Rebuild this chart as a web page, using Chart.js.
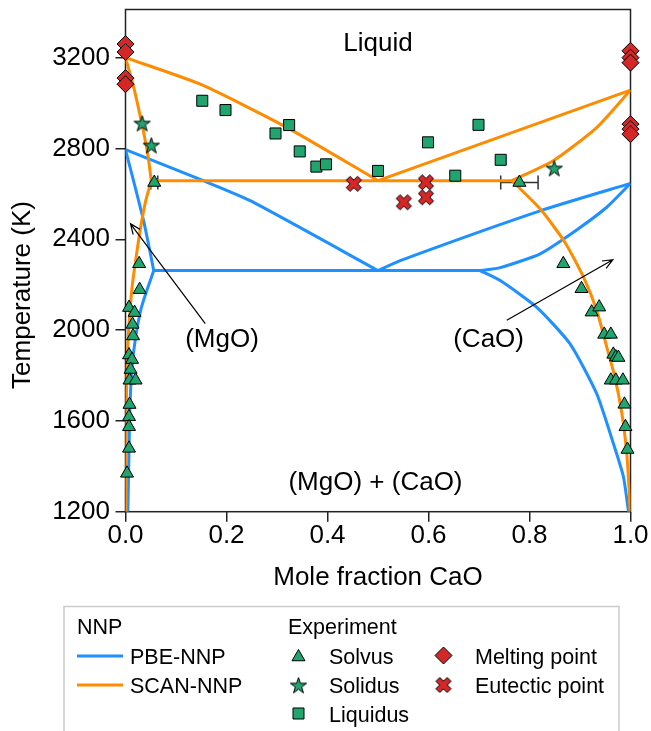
<!DOCTYPE html>
<html>
<head>
<meta charset="utf-8">
<title>MgO-CaO phase diagram</title>
<script src="https://cdn.jsdelivr.net/npm/chart.js@4.4.0/dist/chart.umd.min.js"></script>
<style>
  html, body { margin: 0; padding: 0; background: #fff; }
  #wrap { width: 651px; height: 731px; }
</style>
</head>
<body>
<div id="wrap"><canvas id="phaseChart" width="651" height="731"></canvas></div>
<script>
// --- axes ---
const xTicks = [0, 0.2, 0.4, 0.6, 0.8, 1.0];
const yTicks = [1200, 1600, 2000, 2400, 2800, 3200];
const yMin = 1200;
const yMax = 3412;

// --- PBE-NNP curves, [mole fraction CaO, T (K)] ---
const pbeMgoLiquidus = [[0, 2795], [0.154, 2658], [0.247, 2570], [0.5, 2262]];
const pbeMgoSolidus = [[0, 2795], [0.036, 2480], [0.056, 2262]];
const pbeMgoSolvus = [[0.056, 2262], [0.040, 2160], [0.030, 2087], [0.020, 1969], [0.013, 1837], [0.0085, 1647], [0.0066, 1427], [0.0046, 1200]];
const pbeEutectic = [[0.056, 2262], [0.702, 2262]];
const pbeCaoLiquidus = [[0.5, 2262], [0.544, 2306], [0.821, 2525], [1.0, 2646]];
const pbeCaoSolidus = [[0.702, 2262], [0.742, 2275], [0.821, 2336], [0.887, 2431], [0.953, 2541], [1.0, 2646]];
const pbeCaoSolvus = [[0.702, 2262], [0.742, 2218], [0.814, 2101], [0.880, 1940], [0.933, 1720], [0.966, 1501], [0.986, 1354], [0.996, 1200]];

// --- SCAN-NNP curves ---
const scanMgoLiquidus = [[0, 3200], [0.148, 3083], [0.32, 2892], [0.5, 2658]];
const scanMgoSolidus = [[0, 3200], [0.0165, 3068], [0.043, 2790], [0.051, 2658]];
const scanMgoSolvus = [[0.051, 2658], [0.040, 2569], [0.030, 2453], [0.020, 2306], [0.013, 2189], [0.0066, 2013], [0.0033, 1867], [0.002, 1722], [0.001, 1200]];
const scanEutectic = [[0.051, 2658], [0.765, 2658]];
const scanCaoLiquidus = [[0.5, 2658], [1.0, 3057]];
const scanCaoSolidus = [[0.765, 2658], [0.847, 2746], [0.933, 2892], [1.0, 3057]];
const scanCaoSolvus = [[0.765, 2658], [0.821, 2534], [0.870, 2387], [0.907, 2233], [0.933, 2087], [0.953, 1925], [0.969, 1793], [0.983, 1633], [0.992, 1471], [0.9977, 1281], [0.999, 1200]];

// --- experiment ---
const solvusPts = [
  [0.057, 2650], [0.027, 2292], [0.028, 2178], [0.007, 2099], [0.018, 2077], [0.014, 2025], [0.015, 1974],
  [0.007, 1890], [0.013, 1870], [0.010, 1826], [0.008, 1779], [0.020, 1779], [0.008, 1672], [0.007, 1618],
  [0.007, 1574], [0.007, 1479], [0.003, 1369],
  [0.780, 2650], [0.867, 2292], [0.903, 2182], [0.923, 2079], [0.938, 2101], [0.948, 1981], [0.961, 1981],
  [0.966, 1893], [0.971, 1881], [0.976, 1879], [0.961, 1779], [0.971, 1779], [0.985, 1779], [0.988, 1673],
  [0.990, 1574], [0.994, 1474]
];
const solvusErr = [[0.057, 2650, 0.007], [0.780, 2650, 0.037]]; // x, T, +/- dx
const solidusPts = [[0.033, 2912], [0.051, 2815], [0.849, 2714]];
const liquidusPts = [
  [0.152, 3010], [0.198, 2969], [0.297, 2866], [0.324, 2903], [0.345, 2787], [0.378, 2720],
  [0.397, 2730], [0.500, 2701], [0.599, 2827], [0.653, 2680], [0.699, 2904], [0.743, 2750]
];
const meltingPts = [[0, 3260], [0, 3225], [0, 3110], [0, 3083], [1, 3230], [1, 3200], [1, 3178], [1, 2907], [1, 2885], [1, 2863]];
const eutecticPts = [[0.452, 2644], [0.551, 2563], [0.595, 2651], [0.595, 2585]];

// --- text in the plot (data coords, baseline) ---
const regionLabels = [
  { text: 'Liquid', x: 0.5, y: 3230 },
  { text: '(MgO)', x: 0.191, y: 1925 },
  { text: '(CaO)', x: 0.719, y: 1925 },
  { text: '(MgO) + (CaO)', x: 0.495, y: 1295 }
];
const arrows = [
  { from: [0.158, 2028], to: [0.0099, 2468] },
  { from: [0.755, 2043], to: [0.965, 2310] }
];

const BLUE = '#1e90ff';
const ORANGE = '#ff8c00';
const GREEN = '#1fa56d';
const RED = '#d62728';
const FONT = "'Liberation Sans', Arial, Helvetica, sans-serif";

Chart.defaults.font.family = FONT;
Chart.defaults.color = '#000';

// star and filled X markers as small canvases
function makeStar(outer) {
  const size = Math.ceil(outer * 2 + 4);
  const c = document.createElement('canvas');
  c.width = c.height = size;
  const g = c.getContext('2d');
  const inner = outer * 0.382;
  g.beginPath();
  for (let i = 0; i < 10; i++) {
    const r = i % 2 ? inner : outer;
    const a = -Math.PI / 2 + i * Math.PI / 5;
    g.lineTo(size / 2 + r * Math.cos(a), size / 2 + 1 + r * Math.sin(a));
  }
  g.closePath();
  g.fillStyle = GREEN; g.fill();
  g.lineWidth = 1; g.strokeStyle = '#000'; g.stroke();
  return c;
}
function makeX(unit) {
  const size = Math.ceil(unit + 4);
  const c = document.createElement('canvas');
  c.width = c.height = size;
  const g = c.getContext('2d');
  const pts = [[-1, -3], [-1, -1], [-3, -1], [-3, 1], [-1, 1], [-1, 3], [1, 3], [1, 1], [3, 1], [3, -1], [1, -1], [1, -3]];
  const k = Math.SQRT1_2 * unit / 6;
  g.beginPath();
  pts.forEach(([px, py]) => g.lineTo(size / 2 + (px - py) * k, size / 2 + (px + py) * k));
  g.closePath();
  g.fillStyle = RED; g.fill();
  g.lineWidth = 1; g.strokeStyle = '#000'; g.stroke();
  return c;
}
const starImg = makeStar(8.5);
const xImg = makeX(16);

const toXY = pts => pts.map(([x, y]) => ({ x, y }));
function curve(pts, color) {
  return { data: toXY(pts), showLine: true, borderColor: color, borderWidth: 3, pointRadius: 0,
           tension: 0.2, borderJoinStyle: 'round', fill: false };
}
function markers(pts, style, radius, fill) {
  return { data: toXY(pts), showLine: false, pointStyle: style, pointRadius: radius, pointHoverRadius: radius,
           backgroundColor: fill, borderColor: '#000', borderWidth: 1, clip: false };
}

// legend marker paths, same shapes as Chart.js uses
function legendMarker(ctx, style, x, y) {
  ctx.save();
  ctx.lineWidth = 1; ctx.strokeStyle = '#000';
  if (style === 'star') { ctx.drawImage(starImg, x - starImg.width / 2, y - starImg.height / 2); ctx.restore(); return; }
  if (style === 'x') { ctx.drawImage(xImg, x - xImg.width / 2, y - xImg.height / 2); ctx.restore(); return; }
  ctx.beginPath();
  if (style === 'triangle') {
    const r = 7.5;
    for (let i = 0; i < 3; i++) {
      const a = i * 2 * Math.PI / 3;
      ctx.lineTo(x + Math.sin(a) * r, y - Math.cos(a) * r);
    }
    ctx.fillStyle = GREEN;
  } else if (style === 'rect') {
    const s = 7.8 * Math.SQRT1_2;
    ctx.rect(x - s, y - s, 2 * s, 2 * s);
    ctx.fillStyle = GREEN;
  } else if (style === 'diamond') {
    const r = 8.5;
    ctx.moveTo(x - r, y); ctx.lineTo(x, y - r); ctx.lineTo(x + r, y); ctx.lineTo(x, y + r);
    ctx.fillStyle = RED;
  }
  ctx.closePath();
  ctx.fill(); ctx.stroke();
  ctx.restore();
}

const phaseDecor = {
  id: 'phaseDecor',
  beforeDatasetsDraw(chart) {
    const { ctx, chartArea: a, scales: { x, y } } = chart;
    ctx.save();
    // frame
    ctx.strokeStyle = '#222';
    ctx.lineWidth = 1.5;
    ctx.strokeRect(a.left, a.top, a.right - a.left, a.bottom - a.top);
    // error bars
    ctx.strokeStyle = '#333';
    ctx.lineWidth = 1.5;
    solvusErr.forEach(([cx, t, dx]) => {
      const py = y.getPixelForValue(t);
      const x1 = x.getPixelForValue(cx - dx), x2 = x.getPixelForValue(cx + dx);
      ctx.beginPath();
      ctx.moveTo(x1, py); ctx.lineTo(x2, py);
      ctx.moveTo(x1, py - 7); ctx.lineTo(x1, py + 7);
      ctx.moveTo(x2, py - 7); ctx.lineTo(x2, py + 7);
      ctx.stroke();
    });
    ctx.restore();
  },
  afterDatasetsDraw(chart) {
    const { ctx, scales: { x, y } } = chart;
    ctx.save();
    ctx.fillStyle = '#000';
    ctx.font = '26px ' + FONT;
    ctx.textAlign = 'center';
    ctx.textBaseline = 'alphabetic';
    regionLabels.forEach(l => ctx.fillText(l.text, x.getPixelForValue(l.x), y.getPixelForValue(l.y)));

    ctx.strokeStyle = '#000';
    ctx.lineWidth = 1.2;
    arrows.forEach(ar => {
      const x0 = x.getPixelForValue(ar.from[0]), y0 = y.getPixelForValue(ar.from[1]);
      const x1 = x.getPixelForValue(ar.to[0]), y1 = y.getPixelForValue(ar.to[1]);
      const ang = Math.atan2(y1 - y0, x1 - x0);
      ctx.beginPath();
      ctx.moveTo(x0, y0); ctx.lineTo(x1, y1);
      ctx.moveTo(x1 - 11 * Math.cos(ang - 0.4), y1 - 11 * Math.sin(ang - 0.4));
      ctx.lineTo(x1, y1);
      ctx.lineTo(x1 - 11 * Math.cos(ang + 0.4), y1 - 11 * Math.sin(ang + 0.4));
      ctx.stroke();
    });
    ctx.restore();
  },
  afterDraw(chart) {
    const ctx = chart.ctx;
    ctx.save();
    // y axis title, sits a bit below the middle of the axis like the original
    ctx.translate(23, 295);
    ctx.rotate(-Math.PI / 2);
    ctx.font = '26px ' + FONT;
    ctx.fillStyle = '#000';
    ctx.textAlign = 'center';
    ctx.textBaseline = 'middle';
    ctx.fillText('Temperature (K)', 0, 0);
    ctx.restore();

    ctx.save();
    // legend box (runs past the bottom edge)
    ctx.strokeStyle = '#cccccc';
    ctx.lineWidth = 1.5;
    ctx.strokeRect(64, 606.5, 555, 160);

    ctx.font = '21.5px ' + FONT;
    ctx.fillStyle = '#000';
    ctx.textAlign = 'left';
    ctx.textBaseline = 'alphabetic';
    ctx.fillText('NNP', 77, 633.5);
    ctx.fillText('Experiment', 288, 633.5);

    ctx.lineWidth = 3;
    ctx.strokeStyle = BLUE;
    ctx.beginPath(); ctx.moveTo(77, 656); ctx.lineTo(123, 656); ctx.stroke();
    ctx.strokeStyle = ORANGE;
    ctx.beginPath(); ctx.moveTo(77, 685); ctx.lineTo(123, 685); ctx.stroke();
    ctx.fillText('PBE-NNP', 130, 664);
    ctx.fillText('SCAN-NNP', 130, 693);

    legendMarker(ctx, 'triangle', 298.5, 657);
    legendMarker(ctx, 'star', 298.5, 685);
    legendMarker(ctx, 'rect', 298.5, 713.5);
    ctx.fillText('Solvus', 329, 664);
    ctx.fillText('Solidus', 329, 693);
    ctx.fillText('Liquidus', 329, 721.5);

    legendMarker(ctx, 'diamond', 443.5, 655.5);
    legendMarker(ctx, 'x', 443.5, 685);
    ctx.fillText('Melting point', 475, 664);
    ctx.fillText('Eutectic point', 475, 693);
    ctx.restore();
  }
};

const ctx = document.getElementById('phaseChart');
new Chart(ctx, {
  type: 'scatter',
  data: {
    datasets: [
      // markers first so they sit on top of the lines
      markers(eutecticPts, xImg, 8, RED),
      markers(meltingPts, 'rectRot', 8.5, RED),
      markers(liquidusPts, 'rect', 7.8, GREEN),
      markers(solidusPts, starImg, 8.5, GREEN),
      markers(solvusPts, 'triangle', 7.5, GREEN),

      curve(scanMgoLiquidus, ORANGE),
      curve(scanMgoSolidus, ORANGE),
      curve(scanMgoSolvus, ORANGE),
      curve(scanEutectic, ORANGE),
      curve(scanCaoLiquidus, ORANGE),
      curve(scanCaoSolidus, ORANGE),
      curve(scanCaoSolvus, ORANGE),

      curve(pbeMgoLiquidus, BLUE),
      curve(pbeMgoSolidus, BLUE),
      curve(pbeMgoSolvus, BLUE),
      curve(pbeEutectic, BLUE),
      curve(pbeCaoLiquidus, BLUE),
      curve(pbeCaoSolidus, BLUE),
      curve(pbeCaoSolvus, BLUE)
    ]
  },
  options: {
    responsive: false,
    animation: false,
    events: [],
    layout: { padding: { left: 0, right: 20.5, top: 8.3, bottom: 0 } },
    plugins: { legend: { display: false }, tooltip: { enabled: false } },
    scales: {
      x: {
        type: 'linear',
        min: 0,
        max: 1,
        afterBuildTicks: s => { s.ticks = xTicks.map(v => ({ value: v })); },
        afterFit: s => { s.height = 219.3; s.paddingLeft = 0; s.paddingRight = 0; },
        ticks: { callback: v => v.toFixed(1), font: { size: 26 }, color: '#000', padding: -1, maxRotation: 0, autoSkip: false },
        grid: { drawOnChartArea: false, drawTicks: true, tickLength: 10, color: '#222', lineWidth: 1.5 },
        border: { display: false },
        title: { display: true, text: 'Mole fraction CaO', font: { size: 26 }, color: '#000', padding: { top: 0, bottom: 138 } }
      },
      y: {
        type: 'linear',
        min: yMin,
        max: yMax,
        afterBuildTicks: s => { s.ticks = yTicks.map(v => ({ value: v })); },
        afterFit: s => { s.width = 125.5; s.paddingTop = 0; s.paddingBottom = 0; },
        ticks: { callback: v => String(v), font: { size: 26 }, color: '#000', padding: 5.5 },
        grid: { drawOnChartArea: false, drawTicks: true, tickLength: 10, color: '#222', lineWidth: 1.5 },
        border: { display: false },
        title: { display: false }
      }
    }
  },
  plugins: [phaseDecor]
});
</script>
</body>
</html>
